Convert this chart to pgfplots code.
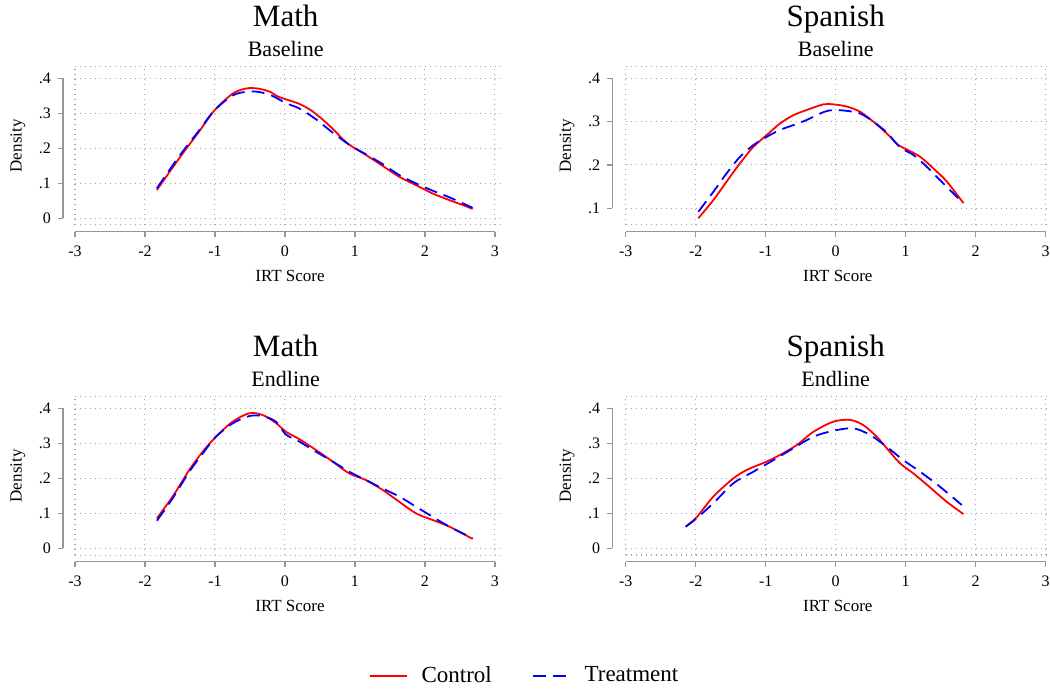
\documentclass[border=0pt]{standalone}
\usepackage{fontspec}
\setmainfont{Liberation Serif}
\usepackage{pgfplots}
\pgfplotsset{compat=1.18}

\definecolor{axgray}{RGB}{150,150,150}
\definecolor{gridgray}{RGB}{165,165,165}

\pgfplotsset{
  panel/.style={
    scale only axis,
    anchor=south west,
    height=79.15pt,
    xmin=-3,
    axis x line*=bottom, axis y line*=left,
    axis line style={draw=none},
    axis x line shift=3.35pt,
    tick align=outside,
    major tick length=2.5pt,
    tick style={axgray, line width=0.6pt},
    xtick={-3,-2,-1,0,1,2,3},
    xticklabels={-3,-2,-1,0,1,2,3},
    grid=major,
    major grid style={gridgray, line width=0.5pt, dotted},
    clip=false,
    ticklabel style={font=\fontsize{8}{9}\selectfont},
    xticklabel style={yshift=-1pt},
    xlabel={IRT Score}, ylabel={Density},
    label style={font=\fontsize{8.5}{10}\selectfont},
  },
  leftp/.style={width=215pt, xmax=3.143, axis y line shift=6pt},
  rightp/.style={width=212.15pt, xmax=3.061, axis y line shift=6.7pt},
  ctrl/.style={red, line width=0.9pt, smooth, tension=0.5},
  treat/.style={blue, line width=0.9pt, dash pattern=on 6.5pt off 3.5pt, smooth, tension=0.5},
}

\newcommand{\frameparts}[2]{%
  \draw[gridgray, line width=0.5pt, dotted] (rel axis cs:0,0) -- (rel axis cs:1,0);
  \draw[gridgray, line width=0.5pt, dotted] (rel axis cs:0,1) -- (rel axis cs:1,1);
  \draw[axgray, line width=0.6pt] ([xshift=-#1]axis cs:-3,#2) -- ([xshift=-#1]axis cs:-3,0.4);
  \draw[axgray, line width=0.6pt] ([yshift=-3.35pt]rel axis cs:0,0) -- ([yshift=-3.35pt]axis cs:3,\pgfkeysvalueof{/pgfplots/ymin});
}

\begin{document}
\begin{tikzpicture}
\path[use as bounding box] (0pt,0pt) rectangle (525pt,-344.5pt);

% titles
\node[anchor=base, font=\fontsize{15.5}{18}\selectfont] at (142.85pt,-13.5pt) {Math};
\node[anchor=base, font=\fontsize{11}{13}\selectfont] at (142.85pt,-28.5pt) {Baseline};
\node[anchor=base, font=\fontsize{15.5}{18}\selectfont] at (417.85pt,-13.5pt) {Spanish};
\node[anchor=base, font=\fontsize{11}{13}\selectfont] at (417.85pt,-28.5pt) {Baseline};
\node[anchor=base, font=\fontsize{15.5}{18}\selectfont] at (142.85pt,-178.5pt) {Math};
\node[anchor=base, font=\fontsize{11}{13}\selectfont] at (142.85pt,-193.5pt) {Endline};
\node[anchor=base, font=\fontsize{15.5}{18}\selectfont] at (417.85pt,-178.5pt) {Spanish};
\node[anchor=base, font=\fontsize{11}{13}\selectfont] at (417.85pt,-193.5pt) {Endline};

% Math baseline
\begin{axis}[panel, leftp, at={(37.5pt,-112.5pt)}, ymin=-0.019, ymax=0.4333,
  ytick={0,0.1,0.2,0.3,0.4}, yticklabels={0,.1,.2,.3,.4}]
\addplot[ctrl] coordinates {(-1.83,0.081) (-1.51,0.172) (-1.22,0.250) (-1.01,0.308) (-0.75,0.356) (-0.557,0.371) (-0.39,0.371) (-0.22,0.362) (-0.10,0.348) (0.014,0.340) (0.205,0.327) (0.37,0.309) (0.54,0.282) (0.68,0.256) (0.895,0.214) (1.157,0.181) (1.395,0.150) (1.63,0.119) (1.87,0.095) (2.11,0.071) (2.35,0.052) (2.54,0.038) (2.68,0.027)};
\addplot[treat] coordinates {(-1.83,0.086) (-1.51,0.178) (-1.22,0.253) (-1.01,0.308) (-0.75,0.351) (-0.536,0.362) (-0.37,0.361) (-0.18,0.35) (0.014,0.329) (0.205,0.314) (0.443,0.283) (0.68,0.245) (0.92,0.21) (1.157,0.183) (1.395,0.155) (1.63,0.124) (1.87,0.100) (2.11,0.079) (2.35,0.06) (2.68,0.030)};
\frameparts{6pt}{0}
\end{axis}

% Spanish baseline
\begin{axis}[panel, rightp, at={(312.85pt,-112.5pt)}, ymin=0.0614, ymax=0.427,
  ytick={0.1,0.2,0.3,0.4}, yticklabels={.1,.2,.3,.4}]
\addplot[ctrl] coordinates {(-1.962,0.077) (-1.748,0.119) (-1.557,0.162) (-1.367,0.204) (-1.176,0.242) (-0.986,0.269) (-0.795,0.296) (-0.605,0.315) (-0.414,0.327) (-0.176,0.34) (-0.033,0.34) (0.157,0.335) (0.348,0.323) (0.538,0.30) (0.729,0.273) (0.895,0.246) (1.014,0.236) (1.205,0.219) (1.395,0.192) (1.586,0.162) (1.824,0.112)};
\addplot[treat] coordinates {(-1.962,0.092) (-1.748,0.138) (-1.557,0.181) (-1.367,0.219) (-1.176,0.246) (-0.986,0.265) (-0.795,0.281) (-0.605,0.292) (-0.414,0.304) (-0.176,0.322) (-0.033,0.327) (0.157,0.325) (0.348,0.319) (0.538,0.30) (0.729,0.275) (0.919,0.241) (1.11,0.223) (1.3,0.196) (1.49,0.165) (1.752,0.123)};
\frameparts{6.7pt}{0.1}
\end{axis}

% Math endline
\begin{axis}[panel, leftp, at={(37.5pt,-277.5pt)}, ymin=-0.019, ymax=0.4333,
  ytick={0,0.1,0.2,0.3,0.4}, yticklabels={0,.1,.2,.3,.4},
  legend columns=2,
  legend style={at={(1.0477,-0.764)}, anchor=center, draw=none, fill=none,
    font=\fontsize{11.5}{13}\selectfont,
    /tikz/every odd column/.append style={column sep=5pt},
    /tikz/every even column/.append style={column sep=18pt}},
  legend image code/.code={\draw[#1] (0pt,0pt) -- (18.5pt,0pt);}]
\addplot[ctrl] coordinates {(-1.83,0.086) (-1.605,0.148) (-1.367,0.224) (-1.176,0.276) (-0.986,0.319) (-0.748,0.362) (-0.510,0.386) (-0.319,0.381) (-0.129,0.358) (0.014,0.333) (0.205,0.312) (0.443,0.281) (0.681,0.248) (0.919,0.214) (1.157,0.195) (1.395,0.167) (1.633,0.133) (1.871,0.10) (2.11,0.081) (2.348,0.062) (2.68,0.027)};
\addlegendentry{Control}
\addplot[treat] coordinates {(-1.83,0.079) (-1.605,0.143) (-1.367,0.219) (-1.176,0.271) (-0.986,0.319) (-0.748,0.357) (-0.510,0.378) (-0.319,0.378) (-0.129,0.362) (0.014,0.325) (0.205,0.305) (0.443,0.276) (0.681,0.248) (0.919,0.219) (1.157,0.195) (1.395,0.171) (1.633,0.148) (1.871,0.119) (2.11,0.090) (2.348,0.062) (2.68,0.029)};
\addlegendentry{Treatment}
\frameparts{6pt}{0}
\end{axis}

% Spanish endline
\begin{axis}[panel, rightp, at={(312.85pt,-277.5pt)}, ymin=-0.019, ymax=0.4333,
  ytick={0,0.1,0.2,0.3,0.4}, yticklabels={0,.1,.2,.3,.4}]
\addplot[ctrl] coordinates {(-2.143,0.062) (-1.986,0.089) (-1.748,0.148) (-1.462,0.20) (-1.271,0.224) (-0.986,0.248) (-0.795,0.267) (-0.557,0.295) (-0.319,0.333) (-0.033,0.362) (0.205,0.367) (0.395,0.352) (0.586,0.319) (0.729,0.286) (0.919,0.243) (1.11,0.214) (1.348,0.174) (1.586,0.133) (1.824,0.098)};
\addplot[treat] coordinates {(-2.143,0.062) (-1.986,0.086) (-1.748,0.129) (-1.462,0.186) (-1.176,0.219) (-0.891,0.252) (-0.605,0.286) (-0.319,0.319) (-0.033,0.336) (0.252,0.343) (0.49,0.324) (0.729,0.290) (0.967,0.252) (1.205,0.219) (1.49,0.176) (1.8,0.124)};
\frameparts{6.7pt}{0}
\end{axis}
\end{tikzpicture}
\end{document}
